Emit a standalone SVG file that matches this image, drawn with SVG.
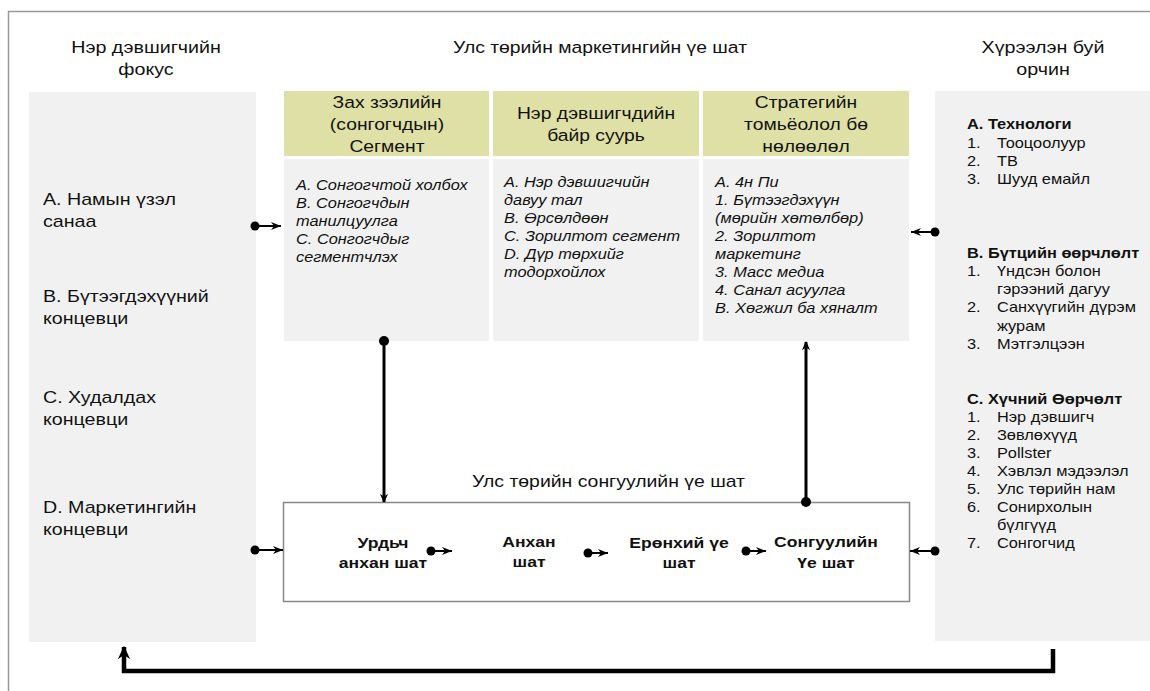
<svg xmlns="http://www.w3.org/2000/svg" width="1150" height="691" viewBox="0 0 1150 691">
<defs>
<style>
text{font-family:"Liberation Sans",Arial,sans-serif;fill:#111}
.t{font-size:16.8px;text-anchor:middle}
.h{font-size:16.5px;text-anchor:middle}
.l{font-size:16.8px}
.i{font-size:14.6px;font-style:italic}
.r{font-size:14px}
.rb{font-size:14px;font-weight:bold}
.s{font-size:15px;font-weight:bold;text-anchor:middle}
.sub{font-size:16.6px}
.gray{fill:#f1f1f1}
.yel{fill:#dfe0a5}
.c{stroke:#000;fill:none;stroke-width:2}
.cb{stroke:#000;fill:none;stroke-width:3}
.cx{stroke:#000;fill:none;stroke-width:4.5}
.dot{fill:#000}
</style>
<marker id="ah" viewBox="0 0 10 10" refX="10" refY="5" markerWidth="5" markerHeight="5" orient="auto" markerUnits="strokeWidth">
<path d="M0,1 L10,5 L0,9 L3,5 Z" fill="#000"/>
</marker>
<marker id="ahb" viewBox="0 0 10 10" refX="9" refY="5" markerWidth="3" markerHeight="3" orient="auto" markerUnits="strokeWidth">
<path d="M0,0.5 L10,5 L0,9.5 L3,5 Z" fill="#000"/>
</marker>
</defs>
<rect width="1150" height="691" fill="#fff"/>
<path d="M8.5,691 V11.5 H1150" fill="none" stroke="#999" stroke-width="1.5"/>

<g id="titles">
<g transform="translate(146,0) scale(1.17,1)">
<text class="t" x="0" y="53">Нэр дэвшигчийн</text>
<text class="t" x="0" y="75">фокус</text>
</g>
<g transform="translate(600,0) scale(1.15,1)">
<text class="t" x="0" y="53">Улс төрийн маркетингийн үе шат</text>
</g>
<g transform="translate(1043,0) scale(1.17,1)">
<text class="t" x="0" y="53">Хүрээлэн буй</text>
<text class="t" x="0" y="75">орчин</text>
</g>
</g>

<g id="left-focus">
<rect class="gray" x="29" y="92" width="227" height="550"/>
<g transform="translate(43,0) scale(1.17,1)">
<text class="l" x="0" y="205">А. Намын үзэл</text>
<text class="l" x="0" y="227">санаа</text>
<text class="l" x="0" y="302">В. Бүтээгдэхүүний</text>
<text class="l" x="0" y="324">концевци</text>
<text class="l" x="0" y="403">С. Худалдах</text>
<text class="l" x="0" y="425">концевци</text>
<text class="l" x="0" y="513">D. Маркетингийн</text>
<text class="l" x="0" y="535">концевци</text>
</g>
</g>

<g id="segment">
<rect class="yel" x="284" y="91" width="205" height="65"/>
<g transform="translate(387,0) scale(1.17,1)">
<text class="h" x="0" y="108">Зах зээлийн</text>
<text class="h" x="0" y="130">(сонгогчдын)</text>
<text class="h" x="0" y="152">Сегмент</text>
</g>
<rect class="gray" x="284" y="159" width="205" height="182"/>
<g transform="translate(296,0) scale(1.12,1)">
<text class="i" x="0" y="190">А. Сонгогчтой холбох</text>
<text class="i" x="0" y="208">В. Сонгогчдын</text>
<text class="i" x="0" y="226">танилцуулга</text>
<text class="i" x="0" y="244">С. Сонгогчдыг</text>
<text class="i" x="0" y="262">сегментчлэх</text>
</g>
</g>

<g id="position">
<rect class="yel" x="493" y="91" width="206" height="65"/>
<g transform="translate(596,0) scale(1.17,1)">
<text class="h" x="0" y="119">Нэр дэвшигчдийн</text>
<text class="h" x="0" y="141">байр суурь</text>
</g>
<rect class="gray" x="493" y="159" width="206" height="182"/>
<g transform="translate(504,0) scale(1.12,1)">
<text class="i" x="0" y="187">А. Нэр дэвшигчийн</text>
<text class="i" x="0" y="205">давуу тал</text>
<text class="i" x="0" y="223">В. Өрсөлдөөн</text>
<text class="i" x="0" y="241">С. Зорилтот сегмент</text>
<text class="i" x="0" y="259">D. Дүр төрхийг</text>
<text class="i" x="0" y="277">тодорхойлох</text>
</g>
</g>

<g id="strategy">
<rect class="yel" x="703" y="91" width="206" height="65"/>
<g transform="translate(806,0) scale(1.17,1)">
<text class="h" x="0" y="108">Стратегийн</text>
<text class="h" x="0" y="130">томьёолол бө</text>
<text class="h" x="0" y="152">нөлөөлөл</text>
</g>
<rect class="gray" x="703" y="159" width="206" height="182"/>
<g transform="translate(715,0) scale(1.12,1)">
<text class="i" x="0" y="187">А. 4н Пи</text>
<text class="i" x="0" y="205">1. Бүтээгдэхүүн</text>
<text class="i" x="0" y="223">(мөрийн хөтөлбөр)</text>
<text class="i" x="0" y="241">2. Зорилтот</text>
<text class="i" x="0" y="259">маркетинг</text>
<text class="i" x="0" y="277">3. Масс медиа</text>
<text class="i" x="0" y="295">4. Санал асуулга</text>
<text class="i" x="0" y="313">В. Хөгжил ба хяналт</text>
</g>
</g>

<g id="environment">
<rect class="gray" x="935" y="91" width="215" height="550"/>
<g transform="translate(967,0) scale(1.17,1)">
<text class="rb" x="0" y="129">А. Технологи</text>
<text class="r" x="0" y="148">1.</text><text class="r" x="25.6" y="148">Тооцоолуур</text>
<text class="r" x="0" y="166">2.</text><text class="r" x="25.6" y="166">ТВ</text>
<text class="r" x="0" y="184">3.</text><text class="r" x="25.6" y="184">Шууд емайл</text>
<text class="rb" x="0" y="258">В. Бүтцийн өөрчлөлт</text>
<text class="r" x="0" y="276">1.</text><text class="r" x="25.6" y="276">Үндсэн болон</text>
<text class="r" x="25.6" y="294">гэрээний дагуу</text>
<text class="r" x="0" y="312">2.</text><text class="r" x="25.6" y="312">Санхүүгийн дүрэм</text>
<text class="r" x="25.6" y="331">журам</text>
<text class="r" x="0" y="349">3.</text><text class="r" x="25.6" y="349">Мэтгэлцээн</text>
<text class="rb" x="0" y="404">С. Хүчний Өөрчөлт</text>
<text class="r" x="0" y="422">1.</text><text class="r" x="25.6" y="422">Нэр дэвшигч</text>
<text class="r" x="0" y="440">2.</text><text class="r" x="25.6" y="440">Зөвлөхүүд</text>
<text class="r" x="0" y="458">3.</text><text class="r" x="25.6" y="458">Pollster</text>
<text class="r" x="0" y="476">4.</text><text class="r" x="25.6" y="476">Хэвлэл мэдээлэл</text>
<text class="r" x="0" y="494">5.</text><text class="r" x="25.6" y="494">Улс төрийн нам</text>
<text class="r" x="0" y="512">6.</text><text class="r" x="25.6" y="512">Сонирхолын</text>
<text class="r" x="25.6" y="530">бүлгүүд</text>
<text class="r" x="0" y="548">7.</text><text class="r" x="25.6" y="548">Сонгогчид</text>
</g>
</g>

<g id="election">
<g transform="translate(472,0) scale(1.17,1)">
<text class="sub" x="0" y="487">Улс төрийн сонгуулийн үе шат</text>
</g>
<rect x="283.5" y="502.5" width="626" height="99" fill="#fff" stroke="#888" stroke-width="1.5"/>
<g transform="translate(383,0) scale(1.17,1)">
<text class="s" x="0" y="548">Урдьч</text>
<text class="s" x="0" y="568">анхан шат</text>
</g>
<g transform="translate(529,0) scale(1.17,1)">
<text class="s" x="0" y="547">Анхан</text>
<text class="s" x="0" y="567">шат</text>
</g>
<g transform="translate(679,0) scale(1.17,1)">
<text class="s" x="0" y="548">Ерөнхий үе</text>
<text class="s" x="0" y="568">шат</text>
</g>
<g transform="translate(826,0) scale(1.17,1)">
<text class="s" x="0" y="547">Сонгуулийн</text>
<text class="s" x="0" y="568">Үе шат</text>
</g>
</g>

<g id="connectors">
<path class="c" d="M255,226 H281" marker-end="url(#ah)"/>
<circle class="dot" cx="255" cy="226" r="4.5"/>
<path class="c" d="M255,550 H283" marker-end="url(#ah)"/>
<circle class="dot" cx="255" cy="550" r="4.5"/>
<path class="c" d="M935,232 H911" marker-end="url(#ah)"/>
<circle class="dot" cx="935" cy="232" r="4.5"/>
<path class="c" d="M935,551 H910" marker-end="url(#ah)"/>
<circle class="dot" cx="935" cy="551" r="4.5"/>
<path class="c" d="M431,551 H452" marker-end="url(#ah)"/>
<circle class="dot" cx="431" cy="551" r="4.5"/>
<path class="c" d="M588,553 H608" marker-end="url(#ah)"/>
<circle class="dot" cx="588" cy="553" r="4.5"/>
<path class="c" d="M746,551 H766" marker-end="url(#ah)"/>
<circle class="dot" cx="746" cy="551" r="4.5"/>
<path class="cb" d="M384,341 V502" marker-end="url(#ahb)"/>
<circle class="dot" cx="384" cy="341" r="5"/>
<path class="cb" d="M806,502 V342" marker-end="url(#ahb)"/>
<circle class="dot" cx="806" cy="502" r="5"/>
<path class="cx" d="M1053,649 V671 H124 V647" marker-end="url(#ahb)" stroke-linejoin="miter"/>
</g>
</svg>
